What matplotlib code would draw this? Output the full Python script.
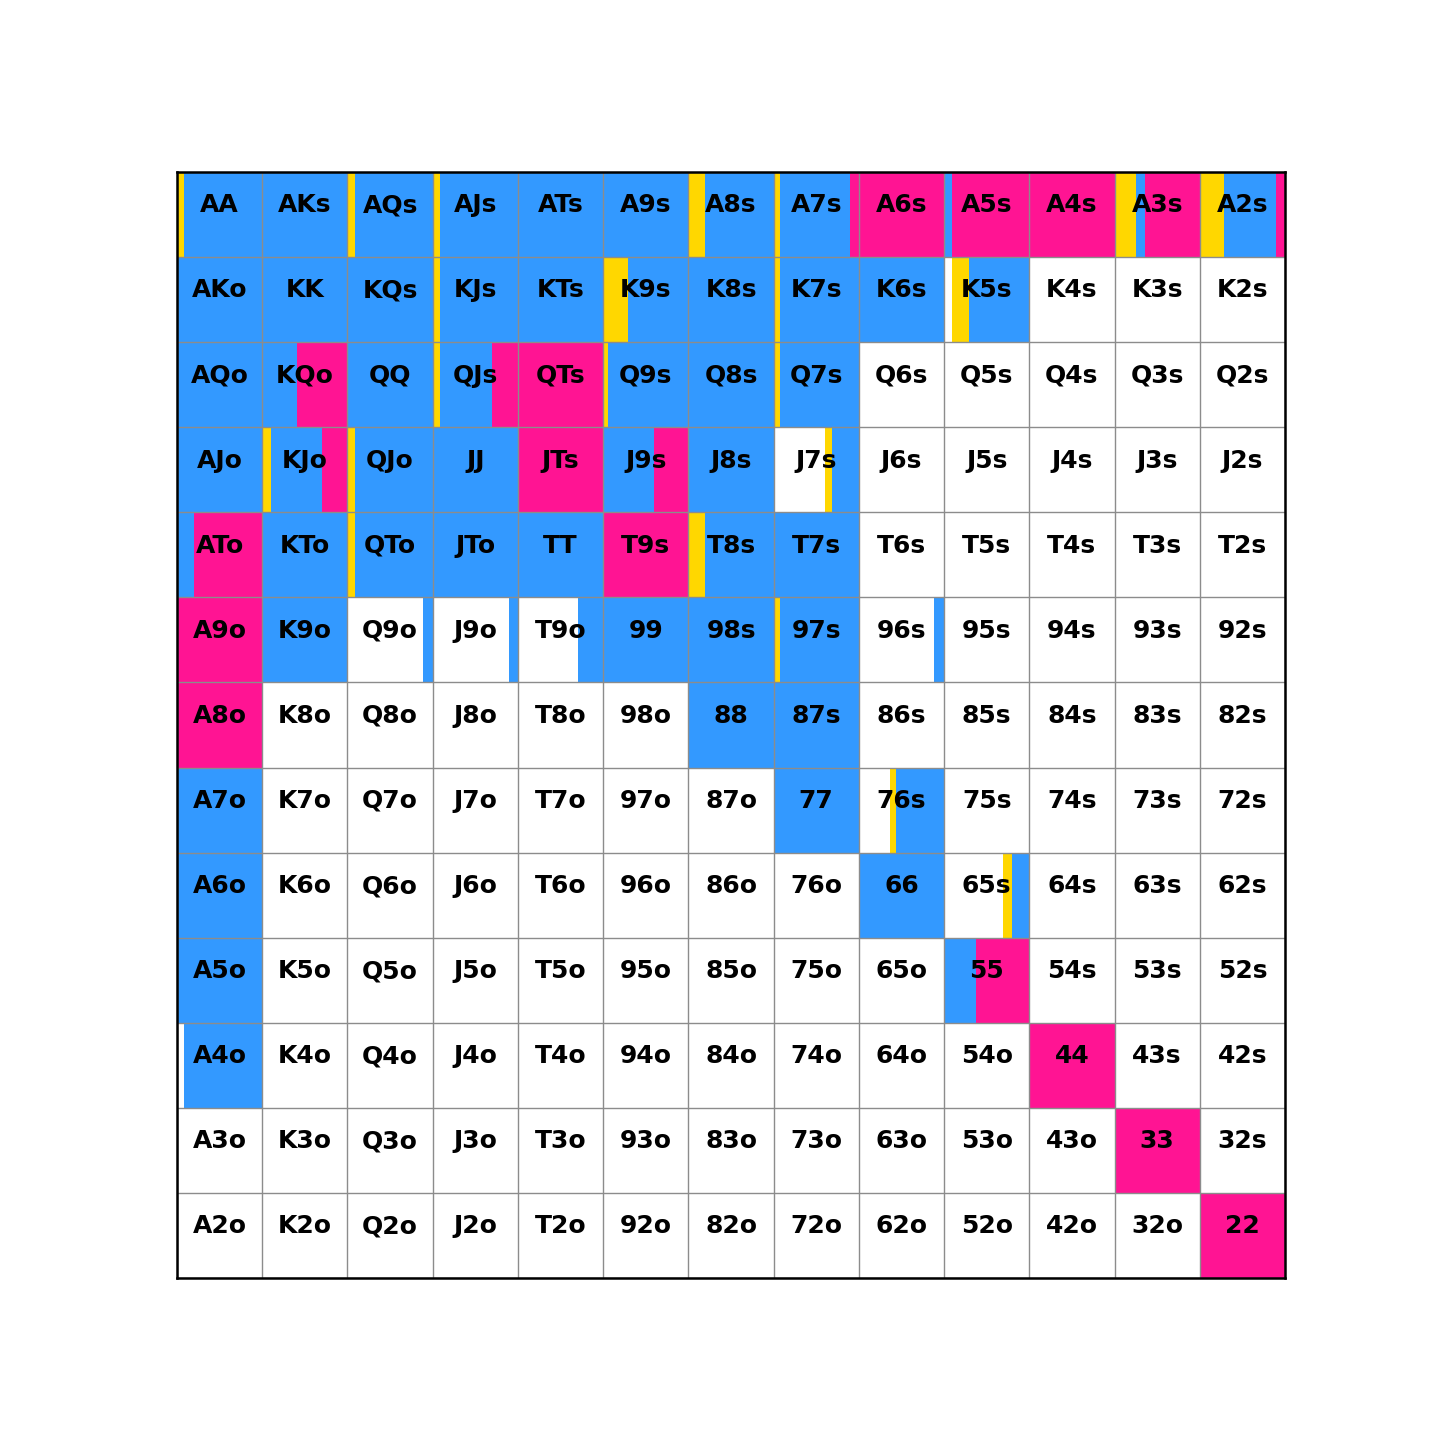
import numpy as np
import matplotlib
matplotlib.use('Agg')
import matplotlib.pyplot as plt

ranks = list('AKQJT98765432')

actions = ['fold', 'call', 'raise', 'allin']
action_colors = {'fold': 'white',
                 'call': '#ffd700',
                 'raise': '#3399ff',
                 'allin': '#ff1493'}

# hands played 100% one way
raise_only = ['AKs', 'ATs', 'A9s', 'AKo', 'KK', 'KQs', 'KTs', 'K8s', 'K6s',
              'AQo', 'QQ', 'Q8s', 'AJo', 'JJ', 'J8s', 'KTo', 'JTo', 'TT', 'T7s',
              'K9o', '99', '98s', '88', '87s', 'A7o', '77', 'A6o', '66', 'A5o']
allin_only = ['A6s', 'A4s', 'QTs', 'JTs', 'T9s', 'A9o', 'A8o', '44', '33', '22']

# mixed hands: (fold, call, raise, allin) in %
mixed = {
    'AA': (0, 8, 92, 0),
    'AQs': (0, 9, 91, 0),
    'AJs': (0, 9, 91, 0),
    'A8s': (0, 19, 81, 0),
    'A7s': (0, 8, 82, 10),
    'A5s': (0, 0, 9, 91),
    'A3s': (0, 25, 11, 64),
    'A2s': (0, 28, 62, 10),
    'KJs': (0, 9, 91, 0),
    'K9s': (0, 29, 71, 0),
    'K7s': (0, 8, 92, 0),
    'K5s': (9, 20, 71, 0),
    'KQo': (0, 0, 41, 59),
    'QJs': (0, 9, 61, 30),
    'Q9s': (0, 6, 94, 0),
    'Q7s': (0, 8, 92, 0),
    'KJo': (0, 10, 60, 30),
    'QJo': (0, 9, 91, 0),
    'J9s': (0, 0, 60, 40),
    'J7s': (60, 8, 32, 0),
    'ATo': (0, 0, 20, 80),
    'QTo': (0, 9, 91, 0),
    'T8s': (0, 19, 81, 0),
    'Q9o': (89, 0, 11, 0),
    'J9o': (89, 0, 11, 0),
    'T9o': (70, 0, 30, 0),
    '97s': (0, 8, 92, 0),
    '96s': (88, 0, 12, 0),
    '76s': (36, 8, 56, 0),
    '65s': (69, 11, 20, 0),
    '55': (0, 0, 38, 62),
    'A4o': (8, 0, 92, 0),
}


def hand_name(i, j):
    if i == j:
        return ranks[i] + ranks[j]
    if j > i:
        return ranks[i] + ranks[j] + 's'
    return ranks[j] + ranks[i] + 'o'


def hand_freqs(h):
    if h in mixed:
        return np.array(mixed[h], dtype=float) / 100
    if h in raise_only:
        return np.array([0, 0, 1, 0], dtype=float)
    if h in allin_only:
        return np.array([0, 0, 0, 1], dtype=float)
    return np.array([1, 0, 0, 0], dtype=float)


n = len(ranks)
freqs = np.zeros((n, n, len(actions)))
for i in range(n):
    for j in range(n):
        freqs[i, j] = hand_freqs(hand_name(i, j))

fig = plt.figure(figsize=(14.3, 14.36), dpi=100)
ax = fig.add_axes([177 / 1430, 1 - 1278 / 1436, 1108 / 1430, 1106 / 1436])

cols = np.arange(n)
for i in range(n):
    left = cols.astype(float)
    for k, act in enumerate(actions):
        w = freqs[i, :, k]
        ax.barh(np.full(n, i + 0.5), w, left=left, height=1.0,
                color=action_colors[act], linewidth=0, zorder=1)
        left = left + w

for i in range(n):
    for j in range(n):
        ax.text(j + 0.5, i + 0.475, hand_name(i, j), ha='center', va='baseline',
                fontsize=18, fontweight='bold', color='black', zorder=4)

ax.set_xticks(np.arange(n + 1))
ax.set_yticks(np.arange(n + 1))
ax.grid(True, color='#8c8c8c', linewidth=1.0, zorder=2)
ax.set_axisbelow(False)
ax.tick_params(length=0, labelbottom=False, labelleft=False)
ax.set_xlim(0, n)
ax.set_ylim(n, 0)
for sp in ax.spines.values():
    sp.set_linewidth(1.8)
    sp.set_zorder(5)

plt.savefig('out.png', dpi=100)
